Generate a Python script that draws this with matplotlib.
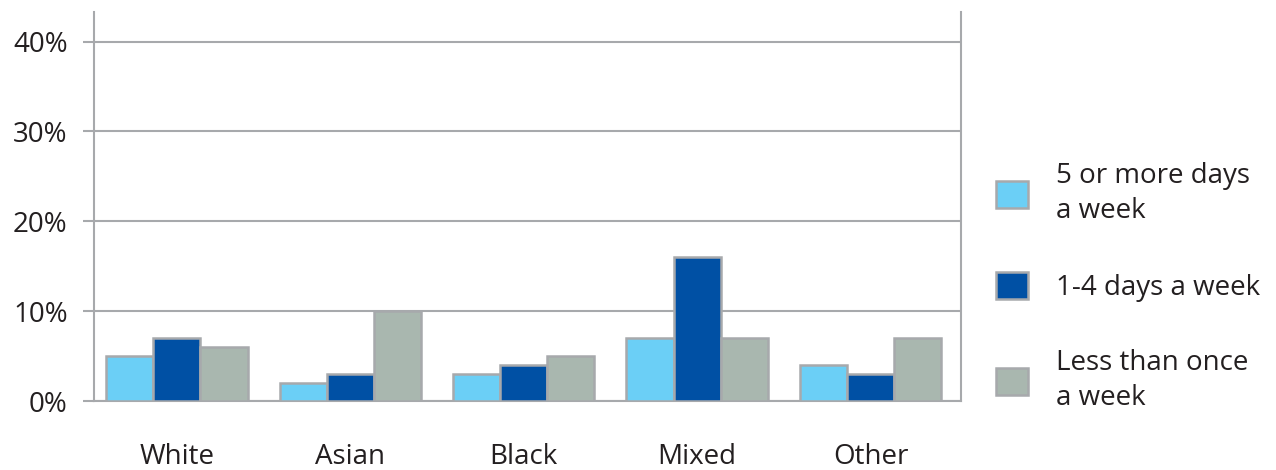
import numpy as np
import matplotlib
matplotlib.use("Agg")
import matplotlib.pyplot as plt

# Data
categories = ["White", "Asian", "Black", "Mixed", "Other"]
series_names = ["5 or more days\na week", "1-4 days a week", "Less than once\na week"]
five_plus = [5, 2, 3, 7, 4]
one_to_four = [7, 3, 4, 16, 3]
less_than_once = [6, 10, 5, 7, 7]
yticks = [0, 10, 20, 30, 40]
ytick_labels = ["0%", "10%", "20%", "30%", "40%"]

colors = ["#6BCFF6", "#0050A4", "#A9B7AF"]
edge = "#A7A9AC"
text_col = "#231F20"

plt.rcParams['font.family'] = ['Open Sans', 'DejaVu Sans']

fig = plt.figure(figsize=(12.76, 4.70), dpi=100)
ax = fig.add_axes([94 / 1276, 1 - 401 / 470, (961 - 94) / 1276, (401 - 12) / 470])

x = np.arange(len(categories))
w = 0.272
handles = []
for i, (vals, c, name) in enumerate(zip([five_plus, one_to_four, less_than_once], colors, series_names)):
    b = ax.bar(x + (i - 1) * w, vals, w, color=c, edgecolor=edge, linewidth=1.8,
               label=name, zorder=3)
    handles.append(b)

ax.set_xlim(-0.478, len(categories) - 0.478)
ax.set_ylim(0, 43.3)
ax.set_yticks(yticks)
ax.set_yticklabels(ytick_labels)
ax.set_xticks(x)
ax.set_xticklabels(categories)

ax.grid(axis="y", color=edge, linewidth=1.5, zorder=0)
ax.spines["top"].set_visible(False)
for s in ["left", "right", "bottom"]:
    ax.spines[s].set_color(edge)
    ax.spines[s].set_linewidth(1.5)

ax.tick_params(axis="y", length=8, width=1.5, color=edge, pad=11,
               labelsize=20, labelcolor=text_col)
ax.tick_params(axis="x", length=0, pad=30, labelsize=20, labelcolor=text_col)

leg = fig.legend(handles=handles, labels=series_names, loc="center left",
                 bbox_to_anchor=(982 / 1276, 1 - 287 / 470), frameon=False,
                 fontsize=20, handlelength=1.15, handleheight=1.15, borderpad=0,
                 handletextpad=1.0, labelspacing=1.7, labelcolor=text_col)
for t in leg.get_texts():
    t.set_linespacing(1.3)

fig.savefig("out.png", dpi=100)
